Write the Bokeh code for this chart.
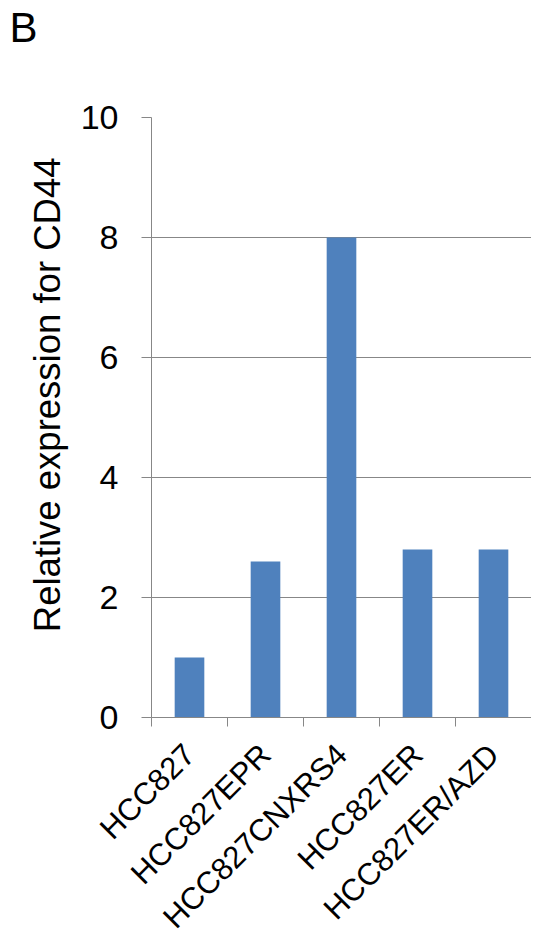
import math
from bokeh.plotting import figure
from bokeh.models import Range1d, FixedTicker, LinearAxis, Title
from bokeh.embed import file_html
from bokeh.resources import INLINE

categories = ["HCC827", "HCC827EPR", "HCC827CNXRS4", "HCC827ER", "HCC827ER/AZD"]
values = [1.0, 2.6, 8.0, 2.8, 2.8]
y_ticks = [0, 2, 4, 6, 8, 10]
panel_label = "B"
y_label = "Relative expression for CD44"

FONT = "Liberation Sans"
GRAY = "#878787"
BAR = "#4F81BD"
FRAME_W, FRAME_H = 380, 600

n = len(categories)
centers = [i + 0.5 for i in range(n)]
bounds = list(range(n + 1))
y0, y1 = y_ticks[0], y_ticks[-1]

p = figure(frame_width=FRAME_W, frame_height=FRAME_H,
           x_range=Range1d(0, n), y_range=Range1d(y0, y1),
           output_backend="svg", toolbar_location=None, x_axis_type=None,
           min_border_left=151, min_border_right=0, min_border_top=117,
           min_border_bottom=2)
p.outline_line_color = None
p.background_fill_color = "white"
p.border_fill_color = "white"

p.vbar(x=centers, top=values, width=0.39, fill_color=BAR, line_color=None)

# y axis
yax = p.yaxis[0]
yax.ticker = FixedTicker(ticks=y_ticks)
yax.major_tick_out = 10
yax.major_tick_in = 0
yax.minor_tick_line_color = None
yax.axis_line_color = GRAY
yax.major_tick_line_color = GRAY
yax.major_label_text_font = FONT
yax.major_label_text_font_size = "34px"
yax.major_label_text_color = "black"
yax.major_label_standoff = 23

# y axis title (top-anchored like the original)
ytitle = Title(text=y_label, align="right", offset=40, standoff=20,
               text_font=FONT, text_font_size="36.5px", text_font_style="normal",
               text_color="black")
p.add_layout(ytitle, "left")

p.ygrid.ticker = FixedTicker(ticks=y_ticks)
p.ygrid.grid_line_color = GRAY
p.ygrid.grid_line_width = 1
p.xgrid.grid_line_color = None

# x axis: boundary ticks
ax1 = LinearAxis(ticker=FixedTicker(ticks=bounds),
                 major_label_overrides={b: "" for b in bounds},
                 major_label_text_font_size="1px",
                 major_tick_out=9, major_tick_in=0,
                 minor_tick_line_color=None,
                 axis_line_color=GRAY, major_tick_line_color=GRAY,
                 major_label_standoff=0)
p.add_layout(ax1, "below")

# x axis: category labels
ax2 = LinearAxis(ticker=FixedTicker(ticks=centers),
                 major_label_overrides={c: name for c, name in zip(centers, categories)},
                 major_label_orientation=math.pi / 4,
                 major_label_text_font=FONT,
                 major_label_text_font_size="31px",
                 major_label_text_color="black",
                 major_label_standoff=17,
                 axis_line_color=None, major_tick_line_color=None,
                 minor_tick_line_color=None)
p.add_layout(ax2, "below")

# blank spacer next to the frame, panel letter (the figure title) further out
spacer = Title(text=" ", text_font_size="10px", standoff=54)
p.add_layout(spacer, "above")
p.title.text = panel_label
p.title.align = "left"
p.title.offset = -142
p.title.standoff = 0
p.title.vertical_align = "bottom"
p.title.text_font = FONT
p.title.text_font_size = "42px"
p.title.text_font_style = "normal"
p.title.text_color = "black"

open("out.html", "w").write(file_html(p, INLINE))
